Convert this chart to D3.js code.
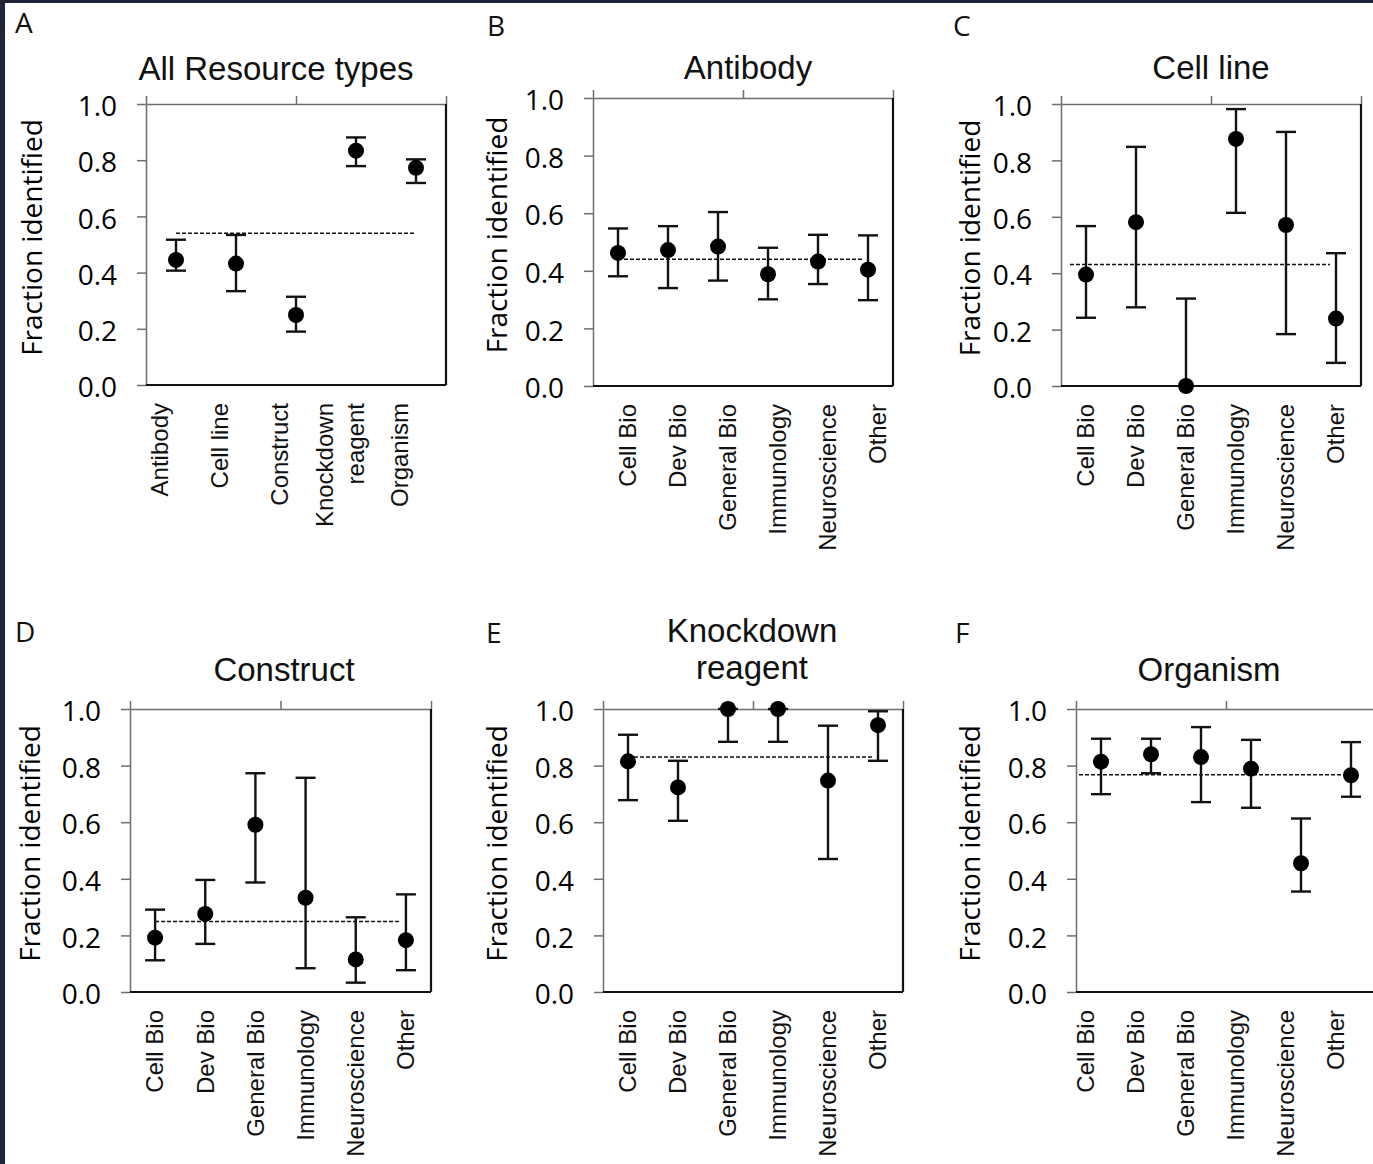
<!DOCTYPE html>
<html>
<head>
<meta charset="utf-8">
<script src="https://cdn.jsdelivr.net/npm/d3@7"></script>
<style>
  body { margin: 0; background: #fff; }
  svg { display: block; }
</style>
</head>
<body>
<div id="chart"></div>
<script>
// categories
const resourceTypes = ["Antibody", "Cell line", "Construct", "Knockdown\nreagent", "Organism"];
const fields = ["Cell Bio", "Dev Bio", "General Bio", "Immunology", "Neuroscience", "Other"];
const yTicks = [0, 0.2, 0.4, 0.6, 0.8, 1.0];
const panelTitles = [["All Resource types"], ["Antibody"], ["Cell line"], ["Construct"], ["Knockdown", "reagent"], ["Organism"]];
const panelLetters = ["A", "B", "C", "D", "E", "F"];

// fraction identified (point) with lower / upper error bar ends
const allMean = [0.445, 0.432, 0.249, 0.834, 0.773];
const allLow = [0.407, 0.334, 0.190, 0.779, 0.719];
const allHigh = [0.517, 0.534, 0.314, 0.881, 0.803];

const antibodyMean = [0.462, 0.472, 0.484, 0.388, 0.432, 0.404];
const antibodyLow = [0.381, 0.340, 0.366, 0.301, 0.354, 0.298];
const antibodyHigh = [0.547, 0.555, 0.604, 0.480, 0.525, 0.523];

const cellLineMean = [0.395, 0.581, 0.0, 0.876, 0.571, 0.239];
const cellLineLow = [0.242, 0.279, 0.0, 0.614, 0.184, 0.082];
const cellLineHigh = [0.567, 0.848, 0.310, 0.982, 0.901, 0.471];

const constructMean = [0.192, 0.276, 0.591, 0.333, 0.115, 0.183];
const constructLow = [0.112, 0.170, 0.387, 0.084, 0.033, 0.077];
const constructHigh = [0.291, 0.396, 0.773, 0.757, 0.264, 0.345];

const knockdownMean = [0.815, 0.723, 1.0, 1.0, 0.747, 0.943];
const knockdownLow = [0.678, 0.605, 0.884, 0.884, 0.470, 0.817];
const knockdownHigh = [0.909, 0.817, 1.0, 1.0, 0.941, 0.992];

const organismMean = [0.814, 0.840, 0.830, 0.789, 0.455, 0.766];
const organismLow = [0.699, 0.773, 0.671, 0.651, 0.355, 0.690];
const organismHigh = [0.895, 0.895, 0.936, 0.891, 0.613, 0.883];

// overall fraction per panel (dashed line)
const overall = [0.540, 0.440, 0.431, 0.249, 0.830, 0.768];

const W = 1373, H = 1164;
const svg = d3.select("#chart").append("svg").attr("width", W).attr("height", H);

svg.append("rect").attr("width", W).attr("height", H).attr("fill", "#fff");
svg.append("rect").attr("width", W).attr("height", 3).attr("fill", "#1f2438");
svg.append("rect").attr("width", 5).attr("height", H).attr("fill", "#1f2438");

const series = [
  [resourceTypes, allMean, allLow, allHigh],
  [fields, antibodyMean, antibodyLow, antibodyHigh],
  [fields, cellLineMean, cellLineLow, cellLineHigh],
  [fields, constructMean, constructLow, constructHigh],
  [fields, knockdownMean, knockdownLow, knockdownHigh],
  [fields, organismMean, organismLow, organismHigh],
];

// frame placement, label tweaks, dashed line extent (in category steps)
const layout = [
  { x0: 146, x1: 446, top: 104, bot: 385, titleX: 276, titleY: 80, lx: 15, ly: 33, yl: 42, labelDx: -16, dash: [0, 4] },
  { x0: 593, x1: 893, top: 98, bot: 386, titleX: 748, titleY: 79, lx: 487, ly: 36, yl: 507, labelDx: 10, dash: [0, 4.88] },
  { x0: 1061, x1: 1361, top: 104, bot: 386, titleX: 1211, titleY: 79, lx: 953, ly: 36, yl: 980, labelDx: 0, dash: [-0.32, 4.88] },
  { x0: 130, x1: 431, top: 709, bot: 992, titleX: 284, titleY: 681, lx: 15, ly: 642, yl: 40, labelDx: 0, dash: [0, 4.88] },
  { x0: 603, x1: 903, top: 709, bot: 992, titleX: 752, titleY: 642, lx: 486, ly: 643, yl: 507, labelDx: 0, dash: [0, 4.9] },
  { x0: 1076, x1: 1376, top: 709, bot: 992, titleX: 1209, titleY: 681, lx: 955, ly: 643, yl: 980, labelDx: -15, dash: [-0.44, 4.9] },
];

const grey = "#6e6e6e", ink = "#111";
const numFont = "'Open Sans', 'Noto Sans', sans-serif";
const txtFont = "'Liberation Sans', Arial, sans-serif";

series.forEach(([cats, mean, low, high], p) => {
  const L = layout[p];
  const g = svg.append("g");
  const x = d3.scaleBand().domain(d3.range(cats.length)).range([L.x0, L.x1]).padding(0);
  const cx = (i) => x(i) + x.bandwidth() / 2;
  const y = d3.scaleLinear().domain([0, 1]).range([L.bot, L.top]);

  // panel letter + title
  g.append("text").attr("x", L.lx).attr("y", L.ly)
    .attr("font-family", numFont).attr("font-size", 28).attr("fill", ink)
    .text(panelLetters[p]);
  const title = g.append("text").attr("x", L.titleX).attr("y", L.titleY)
    .attr("text-anchor", "middle").attr("font-family", txtFont).attr("font-size", 33).attr("fill", ink);
  panelTitles[p].forEach((t, k) => title.append("tspan").attr("x", L.titleX).attr("dy", k ? 37 : 0).text(t));

  // left axis
  const left = g.append("g").attr("transform", `translate(${L.x0},0)`)
    .call(d3.axisLeft(y).tickValues(yTicks).tickFormat(d3.format(".1f")).tickSize(9).tickSizeOuter(0));
  left.select(".domain").attr("stroke", grey).attr("stroke-width", 1.5);
  left.selectAll(".tick line").attr("stroke", grey).attr("stroke-width", 1.5);
  left.selectAll(".tick text").attr("x", -29).attr("dy", "0.42em")
    .attr("font-family", numFont).attr("font-size", 28).attr("fill", "#000");

  // top axis with three ticks
  const xt = d3.scaleLinear().domain([0, 1]).range([L.x0, L.x1]);
  const topAx = g.append("g").attr("transform", `translate(0,${L.top})`)
    .call(d3.axisTop(xt).tickValues([0, 0.5, 1]).tickFormat("").tickSize(8).tickSizeOuter(0));
  topAx.select(".domain").attr("stroke", grey).attr("stroke-width", 1.5);
  topAx.selectAll(".tick line").attr("stroke", grey).attr("stroke-width", 1.5);

  // bottom + right frame
  g.append("line").attr("x1", L.x0).attr("x2", L.x1).attr("y1", L.bot).attr("y2", L.bot)
    .attr("stroke", ink).attr("stroke-width", 2.2);
  g.append("line").attr("x1", L.x1).attr("x2", L.x1).attr("y1", L.top).attr("y2", L.bot)
    .attr("stroke", ink).attr("stroke-width", 2.2);

  // y title
  g.append("text")
    .attr("transform", `translate(${L.yl},${(L.top + L.bot) / 2 - 7}) rotate(-90)`)
    .attr("text-anchor", "middle").attr("font-family", numFont).attr("font-size", 28).attr("fill", "#000")
    .text("Fraction identified");

  // category labels
  cats.forEach((c, i) => {
    const lines = c.split("\n");
    const t = g.append("text")
      .attr("transform", `translate(${cx(i) + L.labelDx},${L.bot + 18}) rotate(-90)`)
      .attr("text-anchor", "end").attr("font-family", txtFont).attr("font-size", 24).attr("fill", ink);
    lines.forEach((s, k) => t.append("tspan").attr("x", 0)
      .attr("y", (k - (lines.length - 1) / 2) * 31).attr("dy", "0.35em").text(s));
  });

  // overall dashed line
  const step = x.step();
  g.append("line")
    .attr("x1", cx(0) + L.dash[0] * step).attr("x2", cx(0) + L.dash[1] * step)
    .attr("y1", y(overall[p])).attr("y2", y(overall[p]))
    .attr("stroke", "#111").attr("stroke-width", 1.5).attr("stroke-dasharray", "4,2");

  // error bars + points
  const idx = d3.range(cats.length);
  const bars = g.selectAll(".eb").data(idx).join("g");
  bars.append("line").attr("x1", cx).attr("x2", cx)
    .attr("y1", (i) => y(low[i])).attr("y2", (i) => y(high[i]))
    .attr("stroke", ink).attr("stroke-width", 2.4);
  [low, high].forEach((arr) => {
    bars.filter((i) => arr[i] > 0).append("line")
      .attr("x1", (i) => cx(i) - 10).attr("x2", (i) => cx(i) + 10)
      .attr("y1", (i) => y(arr[i])).attr("y2", (i) => y(arr[i]))
      .attr("stroke", ink).attr("stroke-width", 2.4);
  });
  bars.append("circle").attr("cx", cx).attr("cy", (i) => y(mean[i])).attr("r", 8).attr("fill", "#000");
});
</script>
</body>
</html>
